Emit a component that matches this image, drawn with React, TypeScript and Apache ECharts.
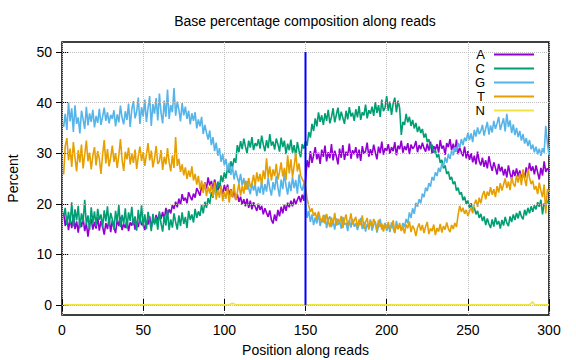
import React, { useEffect, useRef } from "react";
import * as echarts from "echarts";

const positions: number[] = Array.from({ length: 300 }, (_, i) => i + 1);

const baseA = [
  18.2, 15.6, 17.4, 14.8, 16.9, 15.2, 17.8, 15.0, 16.5, 14.3,
  16.8, 15.4, 17.2, 14.6, 16.1, 13.5, 15.9, 17.0, 14.9, 16.4,
  15.1, 17.3, 14.7, 16.6, 15.5, 13.9, 16.2, 15.0, 17.1, 14.4,
  16.7, 15.3, 14.2, 16.9, 15.6, 17.4, 14.8, 16.0, 15.2, 16.8,
  14.6, 16.3, 15.7, 17.0, 14.9, 16.5, 15.4, 17.2, 15.8, 16.1,
  14.8, 16.6, 15.9, 17.5, 15.3, 16.9, 16.2, 17.8, 16.6, 18.1,
  17.0, 18.4, 16.8, 19.2, 17.7, 18.9, 18.1, 19.8, 19.0, 20.4,
  19.3, 21.0, 19.8, 21.9, 20.6, 21.2, 20.1, 22.3, 21.4, 20.7,
  22.0, 21.2, 23.1, 22.4, 21.6, 23.5, 22.8, 24.2, 23.0, 25.2,
  23.6, 24.5, 22.9, 24.8, 23.4, 22.6, 24.1, 23.2, 21.9, 23.7,
  22.5, 23.8, 21.7, 22.9, 21.3, 22.6, 20.8, 21.9, 20.4, 21.4,
  19.8, 20.9, 19.5, 21.0, 19.2, 20.6, 18.9, 20.3, 19.4, 18.6,
  20.0, 18.8, 19.6, 17.9, 19.1, 18.2, 17.4, 18.7, 16.8, 16.1,
  17.9, 16.6, 18.8, 17.5, 19.4, 18.1, 19.9, 18.6, 20.2, 19.3,
  20.6, 19.5, 21.0, 19.9, 20.8, 21.5, 20.3, 21.8, 20.6, 24.5,
  28.6, 27.2, 30.4, 28.1, 29.6, 31.2, 28.8, 30.1, 27.9, 30.7,
  29.3, 31.5, 28.4, 30.2, 29.0, 31.8, 28.6, 30.5, 29.4, 27.8,
  30.9, 29.1, 31.6, 28.7, 30.3, 29.5, 31.9, 28.9, 30.6, 29.8,
  31.2, 29.0, 30.7, 28.5, 31.4, 29.9, 30.4, 32.1, 29.3, 30.8,
  29.6, 31.7, 30.2, 28.8, 31.3, 30.0, 32.3, 29.7, 31.0, 30.5,
  31.8, 29.9, 31.2, 30.4, 32.2, 29.6, 31.5, 30.8, 32.5, 30.1,
  31.4, 30.6, 32.0, 29.8, 31.7, 30.9, 31.3, 32.4, 30.2, 31.6,
  30.8, 32.1, 31.0, 30.3, 31.9, 30.5, 32.3, 29.9, 31.4, 30.7,
  31.8, 30.1, 32.6, 30.9, 31.5, 29.7, 32.0, 31.2, 32.8, 30.6,
  31.9, 30.3, 32.7, 29.8, 31.1, 30.2, 29.4, 31.3, 29.0, 30.4,
  28.7, 30.0, 28.2, 29.5, 27.8, 30.3, 28.4, 27.6, 29.1, 27.3,
  28.6, 27.0, 29.4, 27.7, 26.5, 28.2, 27.1, 25.8, 27.9, 26.4,
  27.3, 25.6, 26.9, 25.2, 27.6, 26.0, 24.9, 26.7, 25.5, 27.0,
  25.4, 26.6, 24.7, 26.3, 25.1, 27.2, 25.9, 28.1, 26.5, 27.4,
  25.8, 27.6, 26.2, 24.8, 27.1, 25.6, 28.4, 26.3, 27.0, 26.5,
];

const baseC = [
  17.6, 19.2, 15.8, 18.4, 16.1, 20.3, 15.5, 18.9, 16.7, 19.6,
  15.2, 18.1, 16.4, 20.8, 15.9, 17.7, 14.8, 19.3, 16.2, 18.5,
  15.6, 19.0, 16.8, 17.9, 15.3, 18.7, 16.5, 19.5, 15.7, 18.2,
  16.9, 14.9, 18.6, 16.3, 19.8, 15.4, 17.8, 16.0, 19.1, 15.1,
  18.3, 16.6, 19.4, 15.8, 17.5, 14.7, 18.8, 16.2, 19.7, 15.5,
  17.9, 15.0, 18.4, 16.7, 14.6, 18.0, 15.9, 17.3, 14.9, 18.5,
  16.1, 14.5, 17.6, 15.7, 18.8, 14.8, 16.9, 15.3, 18.1, 16.4,
  14.9, 17.7, 15.6, 18.3, 16.0, 17.4, 15.2, 18.6, 16.8, 17.9,
  16.3, 19.0, 17.2, 18.5, 17.6, 19.8, 18.1, 20.4, 19.2, 21.1,
  20.0, 22.3, 21.2, 23.5, 22.1, 24.4, 23.0, 25.6, 24.3, 26.2,
  25.0, 27.3, 26.1, 28.4, 27.2, 29.0, 28.1, 31.6, 30.2, 32.4,
  30.8, 32.9, 31.3, 30.0, 32.5, 31.1, 33.2, 30.6, 32.0, 31.4,
  32.8, 30.9, 33.5, 31.7, 30.4, 32.6, 31.0, 33.8, 31.5, 32.3,
  30.7, 32.9, 31.8, 30.3, 33.1, 31.2, 32.5, 29.8, 31.9, 30.6,
  32.7, 30.1, 31.6, 29.4, 32.2, 30.5, 29.2, 31.8, 30.9, 32.4,
  31.5, 34.2, 33.1, 35.8, 34.4, 36.9, 35.3, 38.1, 36.2, 37.5,
  35.6, 37.9, 36.4, 38.6, 35.9, 37.2, 38.9, 36.1, 37.6, 39.0,
  36.5, 38.2, 37.0, 35.8, 38.4, 36.7, 39.1, 37.3, 38.0, 36.4,
  38.7, 37.1, 39.3, 36.6, 38.1, 37.5, 39.6, 36.9, 38.5, 37.8,
  39.2, 37.4, 40.1, 38.0, 39.5, 37.2, 40.6, 38.3, 39.0, 41.3,
  38.4, 40.2, 37.6, 39.8, 41.0, 38.1, 40.4, 38.9, 33.6, 36.2,
  35.6, 37.8, 36.1, 37.2, 35.4, 36.6, 34.9, 36.0, 34.2, 35.3,
  34.0, 34.8, 33.1, 33.9, 32.2, 32.8, 31.0, 31.7, 30.1, 30.6,
  29.2, 29.8, 28.1, 28.7, 27.0, 27.6, 25.9, 26.4, 24.8, 25.3,
  23.9, 24.4, 22.6, 23.2, 21.8, 22.3, 20.7, 21.4, 20.0, 20.6,
  19.2, 20.1, 18.5, 19.3, 17.9, 18.6, 17.2, 18.0, 16.6, 17.5,
  15.8, 17.1, 16.0, 15.2, 16.9, 15.5, 17.3, 15.9, 16.6, 15.1,
  16.8, 15.7, 17.4, 16.2, 15.6, 17.5, 16.4, 17.9, 16.8, 18.2,
  17.1, 18.6, 17.5, 16.9, 18.8, 17.7, 19.2, 18.1, 19.5, 18.4,
  19.7, 18.9, 20.3, 19.4, 20.8, 17.9, 20.1, 19.5, 20.6, 20.2,
];

const baseG = [
  35.2, 37.8, 34.6, 40.1, 36.3, 38.9, 34.2, 39.5, 35.8, 37.1,
  33.9, 38.4, 36.7, 34.8, 39.2, 35.5, 37.9, 36.2, 38.6, 35.1,
  37.4, 36.0, 38.8, 35.6, 37.2, 39.0, 36.4, 38.1, 35.9, 37.6,
  36.8, 38.5, 35.3, 37.7, 36.1, 39.4, 37.0, 35.7, 38.3, 36.6,
  39.8, 35.2, 38.7, 40.3, 36.9, 38.2, 41.0, 35.8, 39.1, 37.3,
  40.6, 36.2, 38.9, 41.3, 35.4, 39.7, 37.8, 40.9, 36.5, 41.8,
  38.0, 35.9, 40.4, 37.2, 42.6, 36.8, 39.5, 38.1, 42.9, 37.4,
  40.2, 38.6, 36.3, 39.9, 37.5, 39.2, 36.8, 38.4, 35.7, 37.9,
  36.4, 38.1, 34.9, 36.7, 35.3, 37.2, 33.8, 35.6, 34.1, 32.7,
  34.5, 31.6, 33.2, 30.4, 32.1, 29.5, 31.0, 28.3, 29.8, 27.6,
  28.9, 26.5, 28.1, 25.7, 27.4, 24.8, 26.6, 25.2, 24.1, 25.9,
  23.6, 25.1, 22.8, 24.5, 23.1, 21.9, 24.2, 22.6, 23.8, 21.5,
  23.4, 22.1, 24.6, 21.8, 23.9, 22.4, 25.2, 23.0, 21.6, 24.3,
  22.7, 25.5, 23.2, 21.4, 24.8, 22.9, 26.1, 23.6, 21.8, 24.4,
  22.5, 25.3, 23.1, 24.7, 22.0, 25.8, 23.4, 22.6, 24.1, 20.8,
  17.2, 18.6, 16.4, 17.9, 15.8, 17.3, 16.1, 18.2, 15.6, 17.0,
  16.3, 17.8, 15.2, 16.9, 17.5, 15.4, 16.7, 14.9, 17.1, 15.8,
  16.6, 15.1, 17.4, 15.9, 16.2, 14.6, 16.8, 15.3, 17.0, 15.5,
  16.1, 14.8, 15.9, 17.2, 15.0, 16.4, 14.5, 16.0, 15.2, 16.9,
  14.7, 15.8, 16.5, 14.3, 15.6, 17.0, 14.9, 15.4, 16.2, 14.6,
  15.9, 14.4, 16.3, 15.1, 14.2, 16.6, 15.0, 15.7, 14.8, 16.2,
  15.4, 17.0, 16.1, 18.3, 17.2, 19.1, 18.0, 20.2, 19.4, 20.9,
  20.1, 22.0, 21.3, 23.2, 22.5, 24.1, 23.4, 25.3, 24.6, 26.2,
  25.5, 27.1, 26.3, 28.0, 27.4, 29.2, 28.1, 29.8, 28.9, 30.5,
  29.6, 31.2, 30.3, 32.0, 31.1, 32.8, 31.6, 33.1, 32.4, 34.0,
  32.6, 33.9, 32.2, 34.6, 33.3, 35.1, 33.8, 34.4, 35.6, 33.5,
  34.9, 36.2, 33.7, 35.5, 34.1, 36.4, 34.8, 35.9, 37.2, 34.6,
  35.8, 36.9, 34.3, 37.8, 35.2, 36.5, 34.0, 35.7, 33.6, 35.0,
  33.2, 34.4, 32.5, 33.8, 31.9, 33.0, 31.4, 32.6, 30.8, 31.7,
  30.2, 31.3, 29.8, 30.9, 29.5, 31.0, 30.1, 35.4, 32.0, 29.6,
];

const baseT = [
  25.8, 31.4, 33.0, 28.6, 30.9, 27.3, 32.2, 29.1, 26.4, 30.6,
  28.2, 31.7, 27.0, 29.8, 32.5, 28.4, 30.1, 26.8, 29.5, 31.2,
  27.6, 30.4, 28.9, 25.9, 29.7, 32.6, 28.0, 30.8, 27.4, 29.2,
  31.5, 28.3, 30.0, 27.1, 29.6, 32.8, 28.7, 26.5, 30.3, 28.8,
  31.1, 27.8, 29.9, 28.1, 30.7, 26.9, 29.4, 31.3, 28.5, 30.2,
  27.5, 29.7, 32.0, 28.6, 30.5, 27.2, 29.0, 31.4, 27.9, 28.4,
  30.6, 26.7, 29.3, 27.8, 31.0, 28.2, 26.4, 29.6, 27.1, 33.2,
  27.5, 28.9, 26.3, 27.8, 25.6, 27.2, 24.9, 26.6, 25.3, 27.4,
  24.6, 25.9, 23.8, 25.5, 22.9, 24.6, 22.1, 24.2, 21.5, 23.4,
  22.0, 23.9, 21.4, 24.3, 20.8, 22.7, 21.2, 23.6, 20.5, 22.4,
  21.0, 23.3, 20.2, 22.8, 21.4, 23.9, 20.7, 22.2, 24.1, 21.6,
  23.5, 22.0, 24.6, 22.8, 25.1, 23.3, 24.0, 25.7, 23.6, 26.2,
  24.4, 25.9, 23.8, 26.6, 24.9, 29.0, 25.2, 27.4, 24.6, 26.8,
  25.5, 27.9, 24.8, 26.3, 28.2, 25.4, 27.1, 24.7, 29.6, 26.0,
  28.8, 25.3, 27.5, 30.1, 26.4, 28.0, 25.6, 24.9, 24.3, 23.5,
  21.0, 19.6, 18.4, 19.1, 17.6, 18.3, 16.9, 18.5, 17.2, 16.4,
  17.8, 16.1, 18.0, 16.6, 15.4, 17.3, 16.0, 18.2, 15.7, 17.0,
  16.3, 17.6, 15.2, 16.8, 17.9, 15.6, 16.5, 18.1, 15.9, 16.7,
  17.4, 15.3, 16.9, 15.8, 17.7, 15.1, 16.4, 17.2, 14.9, 16.6,
  15.5, 17.0, 16.2, 14.7, 16.8, 15.4, 16.1, 14.5, 15.9, 15.2,
  16.4, 14.8, 15.6, 16.7, 14.3, 15.8, 15.0, 16.2, 14.6, 15.5,
  14.1, 15.9, 15.2, 16.5, 14.4, 15.7, 15.0, 13.6, 15.3, 16.1,
  14.7, 15.8, 14.2, 15.5, 16.4, 14.0, 15.1, 14.6, 15.9, 13.8,
  15.2, 14.5, 16.0, 14.3, 15.6, 14.9, 16.3, 15.1, 14.4, 15.8,
  15.0, 16.2, 15.4, 17.8, 19.6, 18.4, 19.2, 18.0, 18.8, 17.6,
  18.5, 19.3, 18.1, 19.9, 20.8, 19.4, 21.2, 20.1, 21.7, 22.5,
  20.9, 22.4, 21.6, 23.3, 21.8, 22.9, 21.3, 23.5, 22.2, 24.1,
  22.6, 23.8, 25.0, 23.1, 24.4, 22.7, 25.3, 24.0, 23.4, 25.6,
  24.2, 26.0, 23.7, 26.8, 24.9, 23.5, 26.9, 25.1, 23.9, 24.6,
  22.8, 23.5, 21.9, 24.2, 22.6, 21.3, 23.8, 18.1, 22.9, 22.4,
];

const nPositions = [1, 103, 104, 105, 106, 107, 288, 289, 290, 291, 300];
const nValues = [0, 0, 0.2, 0.3, 0.2, 0, 0, 0.3, 0.6, 0, 0];

const splitX = [150, 150];
const splitY = [0, 50];

const yTicks = [0, 10, 20, 30, 40, 50];
const legendNames = ["A", "C", "G", "T", "N"];

const FONT = "Liberation Sans, Arial, Helvetica, sans-serif";

export default function App() {
  const ref = useRef<HTMLDivElement>(null);
  useEffect(() => {
    if (!ref.current) return;
    const chart = echarts.init(ref.current, null, { renderer: "svg" });
    const mk = (name: string, xs: number[], vals: number[], color: string) => ({
      type: "line",
      name,
      data: xs.map((p, i) => [p, vals[i]]),
      showSymbol: false,
      symbol: "none",
      lineStyle: { color, width: 1.6 },
      itemStyle: { color },
      z: 3,
    });
    const gridStyle = { type: "dotted", color: "#bdbdbd", width: 1 };
    const option: any = {
      animation: false,
      backgroundColor: "#ffffff",
      textStyle: { fontFamily: FONT, color: "#000" },
      grid: {
        left: 62,
        right: 27,
        top: 42,
        bottom: 45,
        show: true,
        borderColor: "#000",
        borderWidth: 1.5,
        containLabel: false,
        outerBoundsMode: "none",
      },
      graphic: [
        {
          type: "text",
          x: 305,
          y: 21,
          style: {
            text: "Base percentage composition along reads",
            font: `14px ${FONT}`,
            fill: "#000",
            textAlign: "center",
            textVerticalAlign: "middle",
          },
        },
      ],
      legend: {
        data: legendNames,
        orient: "vertical",
        right: 42,
        top: 48,
        padding: 0,
        icon: "rect",
        itemWidth: 40,
        itemHeight: 2,
        itemGap: 1,
        align: "right",
        textStyle: { fontSize: 13, lineHeight: 13, color: "#000", fontFamily: FONT, padding: [0, 4, 0, 0] },
      },
      xAxis: [
        {
          type: "value",
          min: 0,
          max: 300,
          interval: 50,
          axisLine: { show: false },
          axisTick: { inside: true, length: 6, lineStyle: { color: "#000" } },
          axisLabel: { color: "#000", fontSize: 14, margin: 8, fontFamily: FONT },
          splitLine: { show: true, lineStyle: gridStyle },
          name: "Position along reads",
          nameLocation: "middle",
          nameGap: 28,
          nameTextStyle: { fontSize: 14, color: "#000", fontFamily: FONT },
        },
        {
          type: "value",
          position: "top",
          min: 0,
          max: 300,
          interval: 50,
          axisLine: { show: false },
          axisTick: { inside: true, length: 6, lineStyle: { color: "#000" } },
          axisLabel: { show: false },
          splitLine: { show: false },
        },
      ],
      yAxis: [
        {
          type: "value",
          min: -2,
          max: 52,
          axisLine: { show: false },
          axisTick: { inside: true, length: 6, customValues: yTicks, lineStyle: { color: "#000" } },
          axisLabel: { color: "#000", fontSize: 14, margin: 10, customValues: yTicks, fontFamily: FONT },
          splitLine: { show: false },
          name: "Percent",
          nameLocation: "middle",
          nameGap: 42,
          nameTextStyle: { fontSize: 14, color: "#000", fontFamily: FONT },
        },
        {
          type: "value",
          position: "right",
          min: -2,
          max: 52,
          axisLine: { show: false },
          axisTick: { inside: true, length: 6, customValues: yTicks, lineStyle: { color: "#000" } },
          axisLabel: { show: false },
          splitLine: { show: false },
        },
      ],
      series: [
        {
          type: "line",
          name: "grid",
          data: [],
          silent: true,
          z: 1,
          markLine: {
            silent: true,
            symbol: ["none", "none"],
            label: { show: false },
            lineStyle: gridStyle,
            data: yTicks.map((v) => ({ yAxis: v })),
          },
        },
        mk("A", positions, baseA, "#9400d3"),
        mk("C", positions, baseC, "#009e73"),
        mk("G", positions, baseG, "#56b4e9"),
        mk("T", positions, baseT, "#e69f00"),
        mk("N", nPositions, nValues, "#f0e442"),
        {
          type: "line",
          name: "split",
          data: splitX.map((x, i) => [x, splitY[i]]),
          showSymbol: false,
          symbol: "none",
          lineStyle: { color: "#0000ff", width: 2 },
          z: 5,
        },
      ],
    };
    chart.setOption(option);
    return () => chart.dispose();
  }, []);
  return <div ref={ref} style={{ width: 576, height: 360, position: "absolute", left: 0, top: 0 }} />;
}
